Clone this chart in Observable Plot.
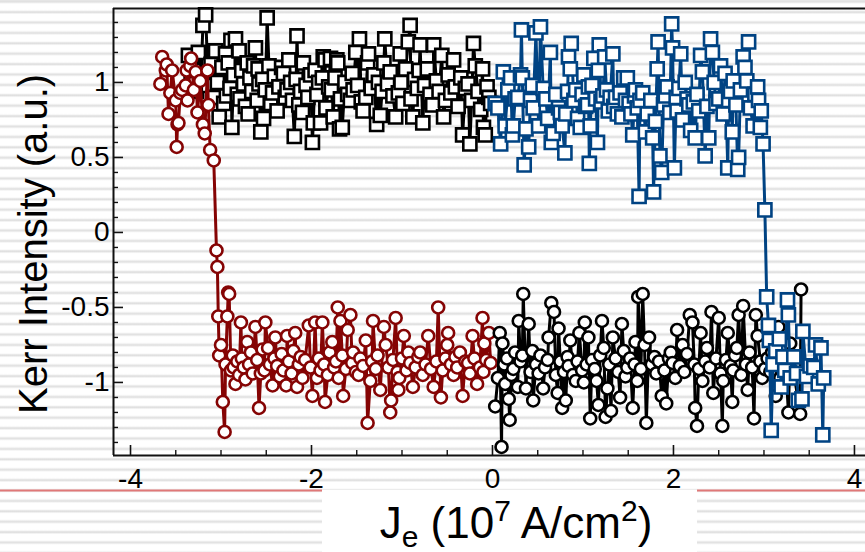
<!DOCTYPE html>
<html>
<head>
<meta charset="utf-8">
<script src="https://cdn.jsdelivr.net/npm/d3@7"></script>
<script src="https://cdn.jsdelivr.net/npm/@observablehq/plot@0.6"></script>
<style>
  html, body { margin: 0; padding: 0; }
  body {
    width: 865px; height: 552px; overflow: hidden;
    background: repeating-linear-gradient(to bottom, #dadada 0px, #ffffff 2px, #ffffff 8.4px, #dadada 10.4px);
    background-position: 0 1.7px;
    font-family: "Liberation Sans", Arial, Helvetica, sans-serif;
  }
  #chart { position: relative; width: 865px; height: 552px; }
</style>
</head>
<body>
<div id="chart"></div>
<script>
// Kerr intensity vs. current density, two sweeps.
// Each branch: [J (10^7 A/cm^2), Kerr intensity (a.u.)]

// Sweep 1, J < 0 part (red circles): starts high, switches near -3.05
const redCircles = [
  [-3.67,0.99],[-3.65,1.17],[-3.61,1.08],[-3.60,1.12],[-3.58,0.79],[-3.56,0.93],[-3.54,1.08],
  [-3.50,0.88],[-3.49,0.57],[-3.48,0.72],[-3.47,0.73],[-3.45,0.93],[-3.43,0.95],[-3.39,0.98],
  [-3.38,1.08],[-3.37,0.88],[-3.34,1.11],[-3.33,1.16],[-3.30,0.95],[-3.28,1.07],[-3.26,0.80],
  [-3.23,1.01],[-3.20,0.72],[-3.18,0.66],[-3.15,1.08],[-3.14,0.85],[-3.12,0.55],[-3.08,0.48],
  [-3.05,-0.12],[-3.04,-0.23],[-3.03,-0.56],[-3.02,-0.82],[-3.00,-0.75],[-2.98,-1.13],[-2.96,-1.33],
  [-2.95,-0.88],[-2.93,-0.56],[-2.92,-0.40],[-2.91,-0.41],[-2.89,-0.92],[-2.87,-0.82],[-2.86,-0.90],
  [-2.84,-1.01],[-2.82,-0.86],[-2.80,-0.95],[-2.78,-0.60],[-2.77,-0.84],[-2.75,-0.90],[-2.73,-0.98],
  [-2.71,-0.73],[-2.69,-0.88],[-2.67,-0.80],[-2.65,-0.94],[-2.62,-0.63],[-2.60,-0.85],[-2.58,-1.17],
  [-2.56,-0.94],[-2.54,-0.78],[-2.52,-0.92],[-2.51,-0.60],[-2.48,-0.77],[-2.46,-0.88],[-2.43,-1.02],
  [-2.41,-0.84],[-2.40,-0.70],[-2.38,-0.89],[-2.35,-0.96],[-2.33,-0.81],[-2.31,-0.92],[-2.28,-1.02],
  [-2.27,-0.69],[-2.25,-0.86],[-2.22,-0.94],[-2.20,-0.79],[-2.18,-0.67],[-2.16,-1.03],[-2.14,-0.88],
  [-2.12,-0.83],[-2.10,-0.97],[-2.07,-0.85],[-2.03,-0.62],[-2.01,-0.90],[-1.99,-1.09],[-1.96,-0.60],
  [-1.94,-0.97],[-1.92,-0.84],[-1.90,-0.92],[-1.88,-0.60],[-1.86,-0.88],[-1.85,-1.13],[-1.82,-0.95],
  [-1.80,-0.80],[-1.77,-0.73],[-1.75,-0.90],[-1.73,-0.86],[-1.71,-0.50],[-1.70,-0.97],[-1.68,-0.59],
  [-1.66,-0.82],[-1.65,-1.09],[-1.62,-0.91],[-1.60,-0.65],[-1.57,-0.55],[-1.55,-0.87],[-1.54,-0.80],
  [-1.51,-0.93],[-1.48,-0.95],[-1.46,-0.84],[-1.43,-0.89],[-1.40,-0.72],[-1.38,-1.27],[-1.35,-0.99],
  [-1.33,-0.86],[-1.32,-0.59],[-1.29,-0.91],[-1.27,-0.82],[-1.24,-1.05],[-1.20,-0.63],[-1.18,-0.75],
  [-1.15,-0.90],[-1.13,-1.20],[-1.12,-1.12],[-1.10,-0.85],[-1.07,-0.57],[-1.05,-0.93],[-1.04,-1.05],
  [-1.03,-0.97],[-1.00,-0.84],[-0.98,-0.69],[-0.95,-0.92],[-0.93,-0.80],[-0.91,-0.87],[-0.88,-1.03],
  [-0.85,-0.90],[-0.82,-0.83],[-0.80,-0.80],[-0.77,-0.95],[-0.74,-0.88],[-0.71,-0.69],[-0.68,-0.91],
  [-0.65,-1.03],[-0.62,-0.86],[-0.60,-0.50],[-0.57,-1.10],[-0.55,-0.92],[-0.52,-0.84],[-0.50,-0.75],
  [-0.49,-0.67],[-0.46,-0.88],[-0.43,-0.95],[-0.41,-0.83],[-0.39,-0.90],[-0.36,-0.80],[-0.33,-1.09],
  [-0.30,-0.86],[-0.27,-0.87],[-0.25,-0.94],[-0.22,-0.69],[-0.20,-0.84],[-0.17,-1.01],[-0.14,-0.90],
  [-0.11,-0.57],[-0.10,-0.93],[-0.09,-0.74],[-0.07,-0.85],[-0.04,-0.67],[-0.02,-0.87]
];

// Sweep 1, J > 0 part (black circles): stays low
const blackCircles = [
  [0.03,-1.16],[0.06,-0.97],[0.08,-0.67],[0.10,-1.43],[0.11,-0.74],[0.13,-0.88],[0.14,-1.01],
  [0.16,-0.84],[0.18,-1.11],[0.19,-1.25],[0.21,-0.95],[0.23,-0.91],[0.25,-0.80],[0.28,-1.03],
  [0.29,-0.59],[0.31,-0.86],[0.33,-0.82],[0.34,-0.41],[0.37,-1.04],[0.40,-0.61],[0.42,-0.93],
  [0.44,-0.79],[0.45,-1.12],[0.48,-0.88],[0.51,-0.94],[0.53,-0.82],[0.56,-1.04],[0.58,-0.90],
  [0.61,-0.85],[0.62,-0.70],[0.65,-0.47],[0.68,-0.53],[0.70,-0.95],[0.72,-1.07],[0.73,-0.64],
  [0.75,-0.86],[0.77,-1.17],[0.79,-0.93],[0.81,-1.12],[0.83,-0.83],[0.84,-0.89],[0.86,-0.72],
  [0.89,-0.95],[0.92,-0.99],[0.94,-0.86],[0.96,-0.67],[0.99,-0.92],[1.01,-1.00],[1.02,-0.60],
  [1.04,-0.88],[1.06,-0.70],[1.08,-1.24],[1.10,-0.85],[1.13,-0.91],[1.15,-0.99],[1.17,-1.15],
  [1.19,-0.82],[1.21,-0.59],[1.23,-0.77],[1.25,-1.23],[1.27,-1.04],[1.29,-0.88],[1.31,-1.19],
  [1.33,-0.70],[1.36,-0.84],[1.39,-0.93],[1.41,-1.10],[1.43,-0.61],[1.45,-0.79],[1.47,-0.96],
  [1.49,-0.90],[1.52,-0.84],[1.55,-1.17],[1.57,-0.88],[1.58,-0.73],[1.60,-0.99],[1.61,-0.43],
  [1.64,-0.91],[1.66,-0.41],[1.68,-0.75],[1.70,-1.27],[1.73,-0.70],[1.76,-0.88],[1.79,-0.83],
  [1.81,-0.94],[1.84,-0.86],[1.87,-1.09],[1.90,-0.92],[1.92,-1.14],[1.95,-0.84],[1.97,-0.80],
  [1.99,-0.87],[2.02,-0.97],[2.04,-0.65],[2.07,-0.89],[2.10,-0.75],[2.12,-0.93],[2.15,-0.81],
  [2.18,-0.55],[2.21,-0.60],[2.23,-0.88],[2.24,-1.17],[2.26,-1.29],[2.28,-0.91],[2.30,-0.67],
  [2.32,-0.99],[2.35,-0.86],[2.37,-0.77],[2.40,-0.90],[2.42,-0.53],[2.44,-1.07],[2.47,-0.84],
  [2.50,-0.57],[2.52,-0.94],[2.54,-1.29],[2.55,-0.99],[2.58,-0.85],[2.60,-0.67],[2.63,-0.89],
  [2.65,-1.13],[2.66,-0.92],[2.68,-0.82],[2.70,-0.77],[2.72,-0.55],[2.75,-0.95],[2.77,-0.49],
  [2.80,-0.88],[2.82,-1.05],[2.84,-0.80],[2.87,-0.90],[2.89,-1.24],[2.91,-0.55],[2.93,-0.69],
  [2.96,-0.86],[2.98,-0.97],[3.01,-0.91],[3.04,-0.84],[3.07,-0.93],[3.09,-0.80],[3.13,-1.09],
  [3.16,-0.63],[3.18,-0.97],[3.24,-0.88],[3.27,-1.20],[3.29,-0.74],[3.33,-0.93],[3.40,-1.21],
  [3.41,-0.38]
];

// Sweep 2, J < 0 part (black squares): stays high
const blackSquares = [
  [-3.36,1.18],[-3.33,1.02],[-3.30,1.08],[-3.27,0.94],[-3.25,1.20],[-3.22,1.05],[-3.20,1.38],
  [-3.17,1.45],[-3.14,0.98],[-3.11,1.12],[-3.08,0.90],[-3.06,1.21],[-3.04,1.00],[-3.02,0.77],
  [-2.99,1.10],[-2.97,0.86],[-2.95,1.19],[-2.94,0.91],[-2.92,1.13],[-2.90,0.96],[-2.89,1.28],
  [-2.88,0.70],[-2.86,1.05],[-2.84,1.29],[-2.82,0.92],[-2.80,1.21],[-2.79,0.89],[-2.77,1.08],
  [-2.75,0.99],[-2.73,0.84],[-2.71,1.13],[-2.70,0.79],[-2.68,1.03],[-2.66,0.94],[-2.64,1.11],
  [-2.62,1.23],[-2.60,0.88],[-2.59,1.09],[-2.58,0.99],[-2.56,0.67],[-2.54,1.02],[-2.53,0.76],
  [-2.51,0.95],[-2.49,1.43],[-2.47,1.11],[-2.45,0.86],[-2.43,0.93],[-2.41,1.04],[-2.38,0.81],
  [-2.36,0.97],[-2.33,1.10],[-2.31,1.06],[-2.29,0.90],[-2.27,0.95],[-2.25,1.15],[-2.23,1.00],
  [-2.21,0.88],[-2.19,0.64],[-2.17,1.02],[-2.16,1.31],[-2.14,0.85],[-2.12,0.94],[-2.10,0.80],
  [-2.09,1.13],[-2.06,0.98],[-2.04,0.90],[-2.01,1.05],[-1.99,0.60],[-1.98,0.73],[-1.96,1.08],
  [-1.94,0.92],[-1.92,1.00],[-1.90,0.73],[-1.88,1.03],[-1.87,1.17],[-1.85,1.15],[-1.84,0.83],
  [-1.81,0.97],[-1.79,1.16],[-1.78,0.95],[-1.76,0.77],[-1.74,1.03],[-1.72,1.15],[-1.71,1.13],
  [-1.69,0.69],[-1.68,0.89],[-1.66,0.70],[-1.63,1.00],[-1.60,0.92],[-1.57,0.88],[-1.55,1.06],
  [-1.54,0.95],[-1.51,1.20],[-1.49,0.98],[-1.47,1.29],[-1.45,0.87],[-1.43,0.81],[-1.40,0.90],
  [-1.38,1.13],[-1.37,1.19],[-1.34,0.96],[-1.31,1.05],[-1.28,0.72],[-1.26,1.00],[-1.24,0.78],
  [-1.22,0.94],[-1.20,1.13],[-1.19,1.29],[-1.16,0.99],[-1.13,1.07],[-1.10,0.91],[-1.07,0.77],
  [-1.04,0.93],[-1.02,1.19],[-1.01,1.00],[-0.99,0.86],[-0.96,1.09],[-0.93,1.27],[-0.91,1.38],
  [-0.90,0.89],[-0.88,0.77],[-0.86,1.02],[-0.83,0.96],[-0.81,1.08],[-0.80,1.25],[-0.77,0.73],
  [-0.75,0.98],[-0.72,1.09],[-0.69,0.92],[-0.66,0.85],[-0.65,1.25],[-0.62,1.01],[-0.59,0.94],
  [-0.56,1.18],[-0.54,0.77],[-0.52,0.88],[-0.49,1.05],[-0.46,0.93],[-0.43,1.15],[-0.41,0.97],
  [-0.38,0.84],[-0.35,1.03],[-0.33,0.65],[-0.30,0.96],[-0.27,0.99],[-0.25,0.59],[-0.23,0.88],
  [-0.21,1.26],[-0.19,1.11],[-0.16,0.94],[-0.13,0.82],[-0.11,1.09],[-0.10,0.70],[-0.08,0.65],
  [-0.06,0.97],[-0.04,0.90],[-0.02,0.86]
];

// Sweep 2, J > 0 part (blue squares): high, switches near +3.0
const blueSquares = [
  [0.03,0.86],[0.06,0.83],[0.09,0.59],[0.12,1.07],[0.14,0.71],[0.17,0.95],[0.20,1.03],
  [0.22,0.65],[0.23,0.71],[0.25,0.89],[0.28,0.90],[0.31,1.05],[0.32,1.35],[0.33,1.03],
  [0.35,0.45],[0.37,0.69],[0.40,0.57],[0.42,0.88],[0.44,0.98],[0.45,0.83],[0.48,1.33],
  [0.51,0.71],[0.53,1.37],[0.56,0.96],[0.59,0.89],[0.61,0.76],[0.64,1.20],[0.65,0.60],
  [0.67,0.66],[0.70,0.92],[0.73,0.83],[0.75,0.80],[0.77,0.71],[0.80,0.53],[0.81,0.79],
  [0.83,0.94],[0.84,1.17],[0.86,1.09],[0.87,1.26],[0.90,0.88],[0.92,0.95],[0.94,0.76],
  [0.97,0.70],[0.99,0.92],[1.01,1.05],[1.03,0.84],[1.05,0.85],[1.06,0.97],[1.07,0.46],
  [1.08,0.71],[1.10,0.98],[1.12,1.16],[1.14,0.89],[1.16,0.60],[1.17,1.08],[1.18,1.25],
  [1.20,0.87],[1.22,0.91],[1.24,1.17],[1.26,0.95],[1.28,0.81],[1.30,0.90],[1.33,1.19],
  [1.34,0.84],[1.36,0.90],[1.38,0.79],[1.41,0.93],[1.43,0.77],[1.45,1.03],[1.47,0.88],
  [1.49,1.03],[1.51,0.86],[1.53,0.79],[1.55,0.65],[1.57,0.91],[1.58,0.95],[1.60,0.83],
  [1.62,0.24],[1.63,0.88],[1.66,0.93],[1.69,0.67],[1.71,0.79],[1.75,0.88],[1.77,0.63],
  [1.78,0.27],[1.80,0.74],[1.82,1.09],[1.83,1.27],[1.85,0.51],[1.87,0.40],[1.89,0.85],
  [1.91,0.91],[1.93,0.97],[1.96,0.80],[1.98,1.39],[1.99,1.23],[2.01,0.43],[2.03,0.90],
  [2.04,0.81],[2.06,0.96],[2.08,1.19],[2.10,0.75],[2.13,1.00],[2.15,0.89],[2.17,0.85],
  [2.19,0.68],[2.22,0.87],[2.24,0.63],[2.26,0.92],[2.28,0.81],[2.30,1.18],[2.32,1.07],
  [2.35,0.51],[2.37,0.84],[2.39,0.63],[2.41,1.29],[2.43,1.20],[2.45,1.00],[2.47,0.86],
  [2.50,0.89],[2.52,1.11],[2.55,0.79],[2.57,1.06],[2.60,0.43],[2.61,0.88],[2.63,0.94],
  [2.65,0.67],[2.66,1.01],[2.69,0.85],[2.71,0.42],[2.72,0.50],[2.74,0.95],[2.77,1.17],
  [2.79,1.10],[2.81,1.01],[2.83,1.27],[2.85,0.83],[2.88,0.71],[2.90,0.92],[2.93,0.97],
  [2.94,0.88],[2.96,0.70],[2.97,0.81],[2.99,0.59],[3.01,0.15],[3.03,-0.43],[3.05,-0.62],
  [3.06,-0.72],[3.08,-1.32],[3.10,-0.88],[3.13,-0.79],[3.17,-0.71],[3.19,-1.03],[3.21,-0.83],
  [3.23,-0.92],[3.26,-0.45],[3.27,-0.55],[3.29,-0.97],[3.33,-0.83],[3.36,-0.94],[3.38,-1.12],
  [3.42,-1.11],[3.43,-0.66],[3.47,-0.96],[3.51,-0.89],[3.55,-0.90],[3.57,-0.75],[3.60,-1.01],
  [3.63,-0.77],[3.65,-1.35],[3.66,-0.97]
];

// Axis ticks and labels
const xMajorTicks = [-4, -2, 0, 2, 4];
const xMinorTicks = [-3.5, -3, -2.5, -1.5, -1, -0.5, 0.5, 1, 1.5, 2.5, 3, 3.5];
const yMajorTicks = [-1, -0.5, 0, 0.5, 1];
const yMinorTicks = [-1.4, -1.3, -1.2, -1.1, -0.9, -0.8, -0.7, -0.6, -0.4, -0.3, -0.2, -0.1,
                     0.1, 0.2, 0.3, 0.4, 0.6, 0.7, 0.8, 0.9, 1.1, 1.2, 1.3, 1.4];
const xDomain = [-4.188, 4.122];
const yDomain = [-1.487, 1.493];

const RED = "#850404";
const BLUE = "#004383";

const W = 865, H = 552;
const M = {left: 113, right: 0, top: 8, bottom: 97};
const plotW = W - M.left - M.right;
const plotH = H - M.top - M.bottom;

const rows = arr => arr.map(([J, K]) => ({J, K}));

function branch(data, color, symbol, r) {
  return [
    Plot.line(rows(data), {x: "J", y: "K", stroke: color, strokeWidth: 3}),
    Plot.dot(rows(data), {x: "J", y: "K", symbol, r, stroke: color, strokeWidth: 2.6, fill: "white"})
  ];
}

const fmt = d => String(d);

const chart = Plot.plot({
  width: W, height: H,
  marginLeft: M.left, marginRight: M.right, marginTop: M.top, marginBottom: M.bottom,
  style: {background: "transparent", fontFamily: "'Liberation Sans', Arial, Helvetica, sans-serif", color: "black"},
  x: {domain: xDomain, label: null},
  y: {domain: yDomain, label: null},
  marks: [
    Plot.axisX(xMajorTicks, {tickSize: 0, tickPadding: 13, fontSize: 28, tickFormat: fmt, label: null}),
    Plot.axisY(yMajorTicks, {tickSize: 0, tickPadding: 4, fontSize: 28, tickFormat: fmt, label: null}),
    // inward ticks
    Plot.tickX(xMajorTicks, {x: d => d, stroke: "#111", strokeWidth: 1.6, insetTop: plotH - 10}),
    Plot.tickX(xMinorTicks, {x: d => d, stroke: "#111", strokeWidth: 1.4, insetTop: plotH - 5}),
    Plot.tickY(yMajorTicks, {y: d => d, stroke: "#111", strokeWidth: 1.6, insetRight: plotW - 10}),
    Plot.tickY(yMinorTicks, {y: d => d, stroke: "#111", strokeWidth: 1.4, insetRight: plotW - 5}),
    // frame lines
    Plot.ruleX([xDomain[0]], {stroke: "#111", strokeWidth: 2}),
    Plot.ruleY([yDomain[0]], {stroke: "#111", strokeWidth: 2}),
    Plot.ruleY([yDomain[1]], {stroke: "#111", strokeWidth: 2}),
    // data
    ...branch(blackSquares, "black", "square", 7.4),
    ...branch(redCircles, RED, "circle", 6.0),
    ...branch(blackCircles, "black", "circle", 6.0),
    ...branch(blueSquares, BLUE, "square", 7.4)
  ]
});

const svg = d3.select(chart);

// strip under the x title
svg.append("line").attr("x1", 0).attr("x2", 322).attr("y1", 490.5).attr("y2", 490.5)
  .attr("stroke", "#e07878").attr("stroke-width", 2);
svg.append("line").attr("x1", 697).attr("x2", W).attr("y1", 490.5).attr("y2", 490.5)
  .attr("stroke", "#e07878").attr("stroke-width", 2);
svg.append("rect").attr("x", 322).attr("y", 490).attr("width", 375).attr("height", H - 490)
  .attr("fill", "white");

// axis titles
const font = "'Liberation Sans', Arial, Helvetica, sans-serif";
svg.append("text")
  .attr("transform", "translate(47,414) rotate(-90)")
  .attr("text-anchor", "start")
  .attr("font-family", font).attr("font-size", 40).attr("fill", "black")
  .text("Kerr Intensity (a.u.)");

const xt = svg.append("text")
  .attr("x", 516).attr("y", 538)
  .attr("text-anchor", "middle")
  .attr("font-family", font).attr("font-size", 44).attr("fill", "black");
xt.append("tspan").text("J");
xt.append("tspan").attr("font-size", 30).attr("dy", 9).text("e");
xt.append("tspan").attr("dy", -9).text(" (10");
xt.append("tspan").attr("font-size", 30).attr("dy", -17).text("7");
xt.append("tspan").attr("dy", 17).text(" A/cm");
xt.append("tspan").attr("font-size", 30).attr("dy", -17).text("2");
xt.append("tspan").attr("dy", 17).text(")");

document.getElementById("chart").appendChild(chart);
</script>
</body>
</html>
